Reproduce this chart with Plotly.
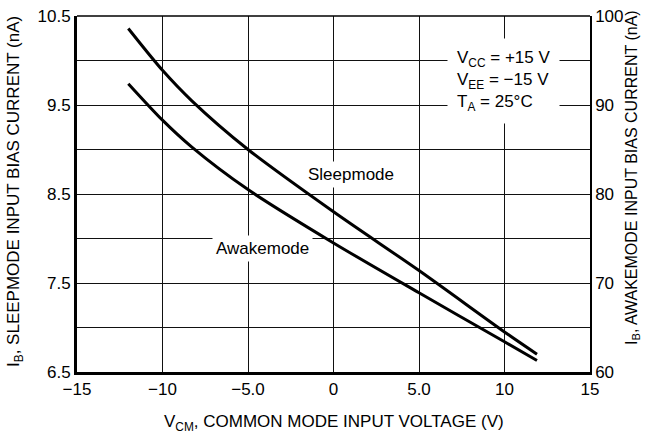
import plotly.graph_objects as go

# ---- data ----
vcm_sleep = [-12, -10, -8.3, -5, 0, 5, 10, 11.9]
ib_sleep = [10.36, 9.89, 9.55, 9.0, 8.30, 7.64, 6.95, 6.70]      # nA, left axis

vcm_awake = [-12, -10, -8.3, -5, 0, 5, 10, 11.9]
ib_awake = [92.4, 88.3, 85.3, 80.5, 74.5, 68.9, 63.4, 61.3]      # nA, right axis

x_ticks = [-15, -10, -5, 0, 5, 10, 15]
x_ticktext = ["\u221215", "\u221210", "\u22125.0", "0", "5.0", "10", "15"]
y_ticks = [6.5, 7.5, 8.5, 9.5, 10.5]
y_ticktext = ["6.5", "7.5", "8.5", "9.5", "10.5"]
y2_ticks = [60, 70, 80, 90, 100]

FONT = "Liberation Sans, Arial, sans-serif"
GRID = "#111"

fig = go.Figure()
fig.add_trace(go.Scatter(x=vcm_sleep, y=ib_sleep, mode="lines", name="Sleepmode",
                         line=dict(color="black", width=3, shape="spline", smoothing=0.8),
                         showlegend=False))
fig.add_trace(go.Scatter(x=vcm_awake, y=ib_awake, mode="lines", name="Awakemode",
                         yaxis="y2",
                         line=dict(color="black", width=3, shape="spline", smoothing=0.8),
                         showlegend=False))

fig.update_layout(
    width=664, height=439,
    margin=dict(l=77, r=74, t=16, b=67, autoexpand=False),
    paper_bgcolor="white", plot_bgcolor="white",
    font=dict(family=FONT, size=17, color="black"),
    xaxis=dict(range=[-15, 15], tickvals=x_ticks, ticktext=x_ticktext,
               showgrid=True, gridcolor=GRID, gridwidth=1, zeroline=False,
               showline=True, linecolor="black", linewidth=3, ticks="",
               tickfont=dict(size=17)),
    yaxis=dict(range=[6.5, 10.5], tickvals=y_ticks, ticktext=y_ticktext,
               showgrid=True, gridcolor=GRID, gridwidth=1, zeroline=False,
               minor=dict(tick0=6.5, dtick=0.5, showgrid=True, gridcolor=GRID, gridwidth=1),
               showline=True, linecolor="black", linewidth=3, ticks="",
               tickfont=dict(size=17)),
    yaxis2=dict(range=[60, 100], tickvals=y2_ticks, overlaying="y", side="right",
                showgrid=False, zeroline=False, showline=True, linecolor="black",
                linewidth=1.5, ticks="", tickfont=dict(size=17)),
)

# top border
fig.add_shape(type="line", xref="paper", yref="paper", x0=0, x1=1, y0=1, y1=1,
              line=dict(color="black", width=1.5))

# axis titles
fig.add_annotation(xref="paper", yref="paper", x=0.5, y=0, yanchor="top", yshift=-38,
                   text="V<sub>CM</sub>, COMMON MODE INPUT VOLTAGE (V)", showarrow=False,
                   font=dict(size=17))
fig.add_annotation(xref="paper", yref="paper", x=0, y=0.5, xanchor="center", yanchor="middle",
                   xshift=-62, yshift=2, textangle=-90,
                   text="I<sub>B</sub>, SLEEPMODE INPUT BIAS CURRENT (nA)", showarrow=False,
                   font=dict(size=17))
fig.add_annotation(xref="paper", yref="paper", x=1, y=0.5, xanchor="center", yanchor="middle",
                   xshift=42, yshift=16, textangle=-90,
                   text="I<sub>B</sub>, AWAKEMODE INPUT BIAS CURRENT (nA)", showarrow=False,
                   font=dict(size=16))

# curve labels
fig.add_annotation(x=1.0, y=8.72, text="Sleepmode", showarrow=False,
                   bgcolor="white", borderpad=3, font=dict(size=17))
fig.add_annotation(x=-4.15, y=7.89, text="Awakemode", showarrow=False,
                   bgcolor="white", borderpad=3, font=dict(size=17))

# conditions box
fig.add_annotation(x=9.94, y=9.77, align="left", showarrow=False, bgcolor="white", borderpad=9,
                   text="V<sub>CC</sub> = +15 V<br>V<sub>EE</sub> = \u221215 V<br>T<sub>A</sub> = 25\u00b0C",
                   font=dict(size=17))

fig.write_html("out.html", config={"displayModeBar": False},
               post_script="document.body.style.margin='0';")
